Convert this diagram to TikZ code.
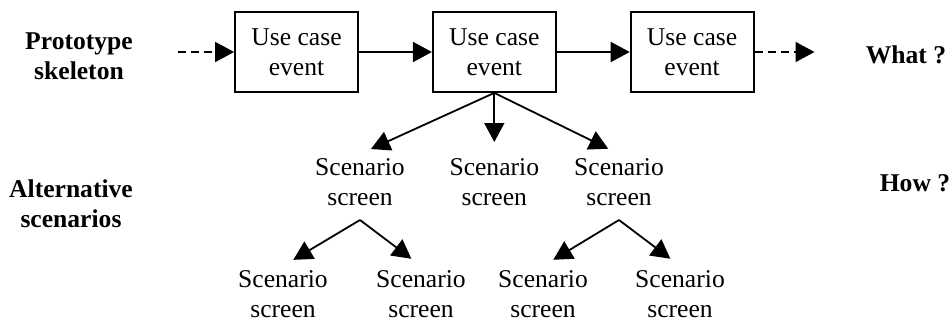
\documentclass[tikz,border=0pt]{standalone}
\usepackage{fontspec}
\setmainfont{Liberation Serif}
\usetikzlibrary{arrows.meta,positioning}

\begin{document}
\begin{tikzpicture}[font=\fontsize{12.8}{15}\selectfont,
		usecase/.style={rectangle,draw,line width=0.9pt,minimum width=61.5pt,minimum height=40pt,align=center},
		scen/.style={align=center,inner sep=2pt},
		lbl/.style={align=center,font=\fontsize{12.8}{15}\selectfont\bfseries},
		marrow/.style={-{Triangle[length=9.5pt,width=10pt]},line width=0.9pt},
		darrow/.style={marrow,dash pattern=on 4pt off 2.5pt}]
		\useasboundingbox (0,0) rectangle (476pt,-161pt);

		% prototype skeleton
		\node [usecase] (uc-a) at (148.25pt,-26pt) {Use case\\event};
		\node [usecase] (uc-b) [right=36.5pt of uc-a] {Use case\\event};
		\node [usecase] (uc-c) [right=36.5pt of uc-b] {Use case\\event};

		\coordinate (pre) at ([xshift=-28pt]uc-a.west);
		\coordinate (post) at ([xshift=30pt]uc-c.east);

		% alternative scenarios
		\node [scen] (sc-a) at (180pt,-91pt) {Scenario\\screen};
		\node [scen] (sc-b) at (uc-b |- sc-a) {Scenario\\screen};
		\node [scen] (sc-c) at (309.5pt,-91pt) {Scenario\\screen};

		\node [scen] (sc-aa) at (141.5pt,-147pt) {Scenario\\screen};
		\node [scen] (sc-ab) at (210.5pt,-147pt) {Scenario\\screen};
		\node [scen] (sc-ca) at (271.5pt,-147pt) {Scenario\\screen};
		\node [scen] (sc-cb) at (340pt,-147pt) {Scenario\\screen};

		\coordinate (fork-a) at ([yshift=-5pt]sc-a.south);
		\coordinate (fork-c) at ([yshift=-5pt]sc-c.south);

		% row labels
		\node [lbl] (skel) at (39.5pt,-28pt) {Prototype\\skeleton};
		\node [lbl] (what) at (453pt,-27.5pt) {What ?};
		\node [lbl] (alt) at (35.5pt,-102pt) {Alternative\\scenarios};
		\node [lbl] (how) at (457.5pt,-91.5pt) {How ?};

		% horizontal arrows
		\draw [darrow] (pre) to (uc-a);
		\draw [marrow] (uc-a) to (uc-b);
		\draw [marrow] (uc-b) to (uc-c);
		\draw [darrow] (uc-c) to (post);

		% branching arrows
		\draw [marrow,shorten >=6pt] (uc-b.south) to (sc-a.north);
		\draw [marrow,shorten >=6pt] (uc-b.south) to (sc-b.north);
		\draw [marrow,shorten >=6pt] (uc-b.south) to (sc-c.north);

		\draw [marrow,shorten >=6pt] (fork-a) to (sc-aa.north);
		\draw [marrow,shorten >=6pt] (fork-a) to (sc-ab.north);
		\draw [marrow,shorten >=6pt] (fork-c) to (sc-ca.north);
		\draw [marrow,shorten >=6pt] (fork-c) to (sc-cb.north);
	\end{tikzpicture}
\end{document}
